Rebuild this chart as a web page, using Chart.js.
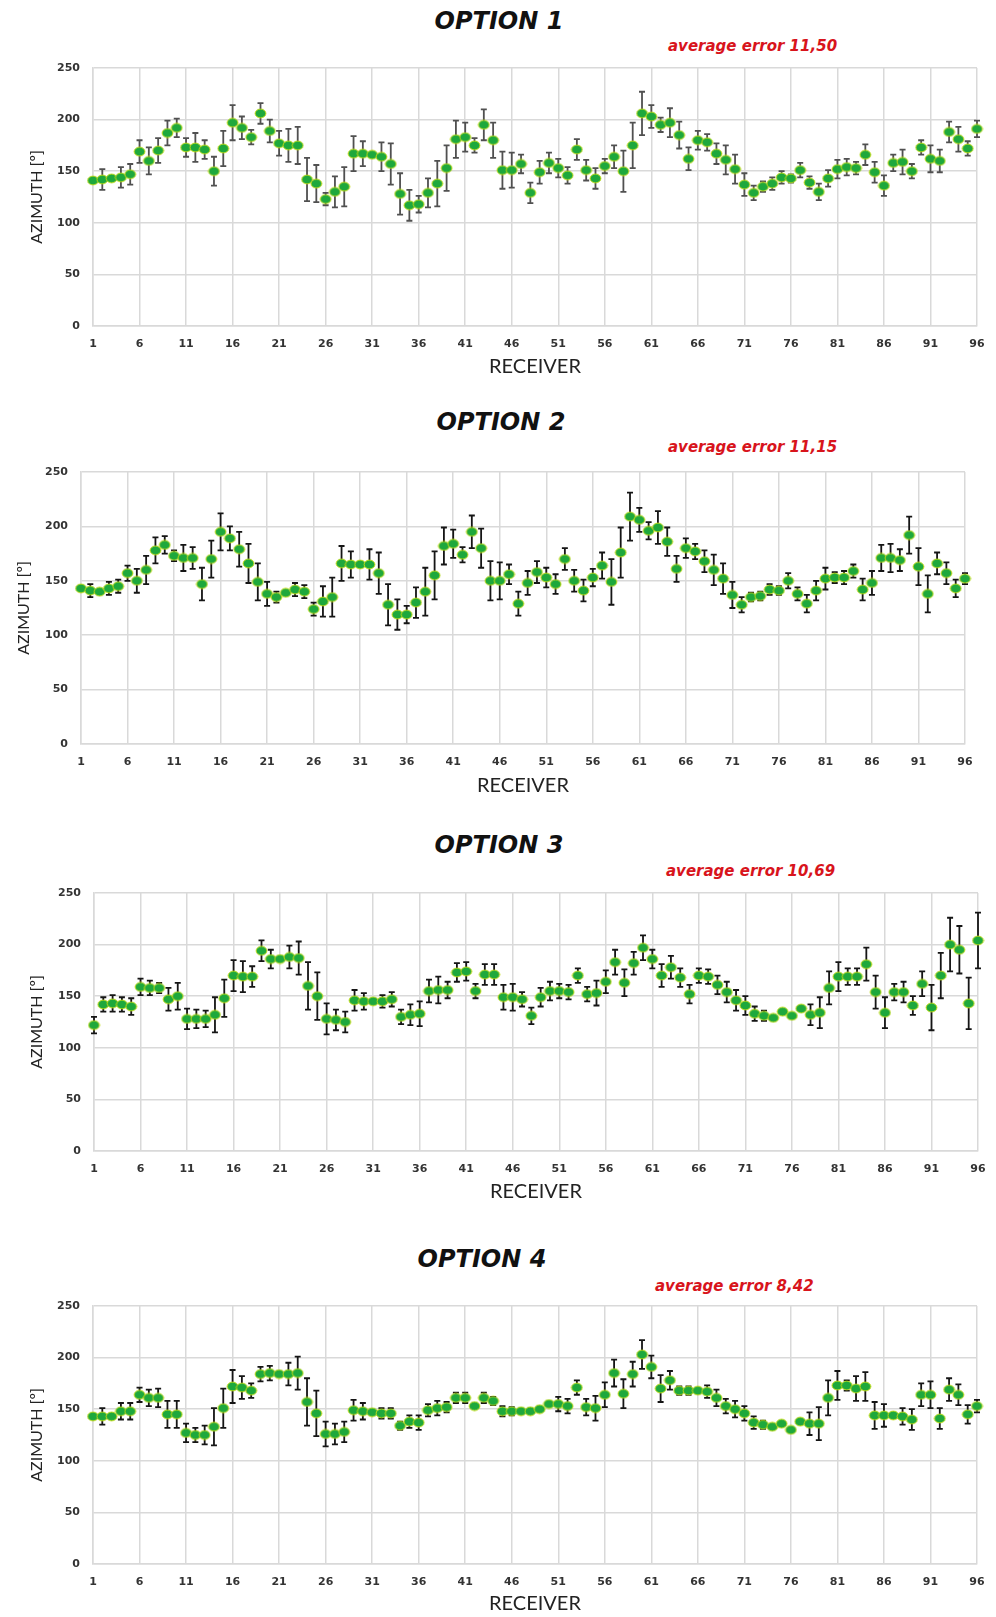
<!DOCTYPE html>
<html>
<head>
<meta charset="utf-8">
<script src="https://cdn.jsdelivr.net/npm/chart.js@4.4.1/dist/chart.umd.min.js"></script>
<style>
  html, body { margin: 0; padding: 0; background: #fff; }
  body { position: relative; width: 996px; height: 1617px; overflow: hidden; }
  .panel { position: absolute; left: 0; }
  .titulo {
    position: absolute; transform: translate(-50%, -50%);
    font: oblique bold 24px "DejaVu Sans", Verdana, sans-serif; color: #111; white-space: nowrap;
  }
  .erro {
    position: absolute; transform: translateY(-50%);
    font: oblique bold 15px "DejaVu Sans", Verdana, sans-serif; color: #d8141c; white-space: nowrap;
  }
</style>
</head>
<body>

<div class="titulo" style="left:499px; top:21px">OPTION 1</div>
<div class="erro" style="left:668px; top:46px">average error 11,50</div>
<div class="panel" style="top:60px"><canvas id="chart1" width="996" height="320"></canvas></div>

<div class="titulo" style="left:501px; top:422px">OPTION 2</div>
<div class="erro" style="left:668px; top:447px">average error 11,15</div>
<div class="panel" style="top:464px"><canvas id="chart2" width="996" height="335"></canvas></div>

<div class="titulo" style="left:499px; top:845px">OPTION 3</div>
<div class="erro" style="left:666px; top:871px">average error 10,69</div>
<div class="panel" style="top:885px"><canvas id="chart3" width="996" height="320"></canvas></div>

<div class="titulo" style="left:482px; top:1259px">OPTION 4</div>
<div class="erro" style="left:655px; top:1286px">average error 8,42</div>
<div class="panel" style="top:1298px"><canvas id="chart4" width="996" height="319"></canvas></div>

<script>
// Azimuth per receiver (1..96) for the four options, with the +/- error
// drawn as bars.

const X_TICKS = [1, 6, 11, 16, 21, 26, 31, 36, 41, 46, 51, 56, 61, 66, 71, 76, 81, 86, 91, 96];
const Y_TICKS = [0, 50, 100, 150, 200, 250];

const OPT1_AZIMUTH = [
  141, 142, 143, 144, 147, 169, 160, 170, 187, 192, 173, 173, 171, 150, 172, 197,
  192, 183, 206, 189, 177, 175, 175, 142, 138, 123, 130, 135, 167, 167, 166, 164,
  157, 128, 117, 118, 129, 138, 153, 181, 183, 175, 195, 180, 151, 151, 157, 129,
  149, 158, 153, 146, 171, 151, 143, 155, 164, 150, 175, 206, 203, 195, 197, 185,
  162, 180, 178, 167, 161, 152, 137, 129, 135, 138, 144, 143, 151, 139, 130, 143,
  152, 154, 153, 166, 149, 136, 158, 159, 150, 173, 162, 160, 188, 181, 172, 191,
];
const OPT1_ERROR = [
  0, 10, 0, 10, 10, 11, 13, 12, 12, 9, 9, 14, 9, 14, 17, 17,
  11, 7, 10, 11, 12, 16, 18, 21, 18, 6, 15, 19, 17, 12, 0, 14,
  20, 20, 15, 8, 14, 22, 22, 18, 14, 7, 15, 17, 18, 17, 9, 10,
  11, 10, 9, 8, 10, 10, 10, 7, 11, 20, 22, 21, 11, 7, 14, 13,
  11, 9, 8, 10, 14, 14, 11, 7, 5, 6, 6, 4, 7, 6, 8, 8,
  9, 8, 6, 10, 10, 10, 8, 12, 7, 7, 13, 11, 10, 12, 7, 8,
];

const OPT2_AZIMUTH = [
  143, 141, 140, 143, 145, 157, 150, 160, 178, 183, 173, 171, 171, 147, 170, 195,
  189, 179, 166, 149, 138, 135, 139, 142, 140, 124, 131, 135, 166, 165, 165, 165,
  157, 128, 119, 119, 130, 140, 155, 182, 184, 174, 195, 180, 150, 150, 156, 129,
  148, 158, 153, 147, 170, 150, 141, 153, 164, 149, 176, 209, 206, 196, 199, 186,
  161, 180, 177, 168, 160, 152, 137, 128, 135, 136, 142, 141, 150, 138, 129, 141,
  152, 153, 153, 159, 142, 148, 171, 171, 169, 192, 163, 138, 166, 157, 143, 152,
];
const OPT2_ERROR = [
  0, 6, 0, 6, 6, 7, 11, 13, 12, 8, 5, 12, 10, 15, 17, 17,
  11, 16, 18, 17, 11, 5, 0, 6, 6, 6, 14, 18, 16, 12, 0, 14,
  19, 19, 14, 8, 14, 22, 22, 17, 13, 7, 15, 18, 18, 17, 9, 11,
  11, 10, 9, 9, 10, 10, 10, 8, 12, 21, 23, 22, 11, 8, 15, 13,
  12, 9, 7, 10, 14, 14, 12, 7, 4, 4, 5, 4, 7, 6, 8, 9,
  10, 5, 6, 6, 10, 11, 12, 13, 10, 17, 17, 17, 10, 10, 8, 5,
];

const OPT3_AZIMUTH = [
  122, 142, 143, 142, 140, 159, 158, 158, 147, 150, 128, 128, 128, 132, 148, 170,
  169, 169, 194, 186, 186, 188, 187, 160, 150, 128, 127, 125, 146, 145, 145, 145,
  147, 130, 132, 133, 155, 156, 156, 173, 174, 155, 171, 171, 149, 149, 147, 131,
  149, 155, 155, 154, 170, 152, 153, 164, 183, 163, 182, 197, 186, 170, 178, 168,
  152, 170, 169, 161, 154, 146, 141, 133, 131, 129, 135, 131, 138, 132, 134, 158,
  169, 169, 169, 181, 154, 134, 154, 154, 141, 162, 139, 170, 200, 195, 143, 204,
];
const OPT3_ERROR = [
  8, 7, 8, 7, 8, 8, 7, 5, 11, 13, 10, 9, 8, 17, 18, 15,
  15, 10, 10, 9, 0, 11, 16, 23, 23, 15, 10, 10, 10, 8, 0, 6,
  7, 7, 10, 12, 11, 13, 8, 9, 9, 7, 10, 10, 12, 13, 7, 8,
  9, 9, 7, 7, 7, 7, 12, 11, 12, 13, 11, 12, 9, 11, 11, 9,
  9, 7, 7, 9, 10, 10, 9, 7, 5, 0, 0, 0, 0, 10, 15, 16,
  14, 8, 8, 16, 16, 15, 8, 10, 9, 12, 22, 22, 26, 23, 25, 27,
];

const OPT4_AZIMUTH = [
  143, 143, 143, 148, 148, 164, 161, 161, 145, 145, 127, 125, 125, 133, 151, 172,
  171, 168, 184, 185, 184, 184, 185, 157, 146, 126, 126, 128, 149, 148, 147, 146,
  146, 134, 138, 137, 149, 151, 152, 161, 161, 153, 161, 158, 148, 148, 148, 148,
  150, 155, 155, 153, 171, 152, 151, 164, 185, 165, 184, 203, 191, 170, 178, 168,
  168, 168, 167, 161, 153, 150, 146, 137, 135, 133, 136, 130, 138, 136, 136, 161,
  173, 173, 170, 172, 144, 144, 144, 143, 140, 164, 164, 141, 169, 164, 145, 153,
];
const OPT4_ERROR = [
  0, 8, 0, 8, 8, 7, 8, 9, 13, 13, 9, 7, 9, 18, 19, 16,
  11, 7, 7, 7, 0, 11, 16, 23, 22, 12, 10, 10, 10, 8, 0, 5,
  5, 4, 6, 7, 6, 7, 5, 5, 5, 0, 5, 4, 5, 4, 0, 0,
  0, 0, 7, 7, 7, 8, 12, 12, 13, 14, 12, 14, 11, 13, 9, 4,
  4, 0, 6, 8, 7, 8, 7, 6, 4, 0, 0, 0, 0, 11, 16, 17,
  14, 5, 12, 14, 13, 11, 0, 8, 10, 11, 13, 10, 11, 10, 9, 6,
];


// ---------------------------------------------------------------------------
// Aparência
// ---------------------------------------------------------------------------

const VERDE = "#1ea83c";
const BORDA_PONTO = "#c2dc16";
const GRADE = "#d9d9d9";
const FONTE_TICK = { family: "'DejaVu Sans', Verdana, sans-serif", size: 11, weight: "bold" };

Chart.defaults.font.family = "Lato, 'Open Sans', sans-serif";
Chart.defaults.color = "#333";

// Layout of each panel, in canvas pixels; plot area lands where the
// original figure has it.
const PAINEIS = [
  { id: "chart1", y: OPT1_AZIMUTH, err: OPT1_ERROR, padLeft: 23, padRight: 19, yWidth: 70, xHeight: 54, bar: "#505050" },
  { id: "chart2", y: OPT2_AZIMUTH, err: OPT2_ERROR, padLeft: 10, padRight: 31, yWidth: 71, xHeight: 55, bar: "#151515" },
  { id: "chart3", y: OPT3_AZIMUTH, err: OPT3_ERROR, padLeft: 23, padRight: 18, yWidth: 71, xHeight: 54, bar: "#151515" },
  { id: "chart4", y: OPT4_AZIMUTH, err: OPT4_ERROR, padLeft: 23, padRight: 19, yWidth: 70, xHeight: 53, bar: "#151515" },
];


/**
 * Green, slightly flattened dot with a yellow rim, used as pointStyle.
 */
function pontoVerde() {
  const c = document.createElement("canvas");
  c.width = 13;
  c.height = 11;
  const g = c.getContext("2d");
  g.beginPath();
  g.ellipse(6.5, 5.5, 5.4, 4.4, 0, 0, 2 * Math.PI);
  g.fillStyle = VERDE;
  g.fill();
  g.lineWidth = 1;
  g.strokeStyle = BORDA_PONTO;
  g.stroke();
  return c;
}


/**
 * Error bars drawn through the chart's own scales, before the points so the
 * dot sits on top of the bar.
 */
const barrasErro = {
  id: "barrasErro",
  beforeDatasetsDraw(chart, args, opts) {
    const { ctx, scales: { x, y } } = chart;
    chart.data.datasets.forEach((ds) => {
      if (!ds.erros) return;
      ctx.save();
      ctx.strokeStyle = opts.color;
      ctx.lineWidth = 1.8;
      ds.data.forEach((p, i) => {
        const e = ds.erros[i];
        if (!e) return;
        const px = x.getPixelForValue(p.x);
        const topo = y.getPixelForValue(p.y + e);
        const base = y.getPixelForValue(p.y - e);
        ctx.beginPath();
        ctx.moveTo(px, topo);
        ctx.lineTo(px, base);
        ctx.moveTo(px - 3, topo);
        ctx.lineTo(px + 3, topo);
        ctx.moveTo(px - 3, base);
        ctx.lineTo(px + 3, base);
        ctx.stroke();
      });
      ctx.restore();
    });
  },
};


function desenharPainel(p, sprite) {
  const pontos = p.y.map((v, i) => ({ x: i + 1, y: v }));
  new Chart(document.getElementById(p.id), {
    type: "scatter",
    data: {
      datasets: [{
        data: pontos,
        erros: p.err,
        pointStyle: sprite,
        clip: false,
      }],
    },
    options: {
      responsive: false,
      animation: false,
      layout: { padding: { top: 8, left: p.padLeft, right: p.padRight, bottom: 0 } },
      plugins: {
        legend: { display: false },
        tooltip: { enabled: false },
        barrasErro: { color: p.bar },
      },
      scales: {
        x: {
          type: "linear",
          min: 1,
          max: 96,
          afterBuildTicks: (s) => { s.ticks = X_TICKS.map((v) => ({ value: v })); },
          afterFit: (s) => {
            s.height = p.xHeight;
            s.paddingLeft = 0;
            s.paddingRight = 0;
          },
          ticks: { padding: 12, maxRotation: 0, autoSkip: false, font: FONTE_TICK, color: "#333" },
          grid: { color: GRADE, lineWidth: 1.5, drawTicks: false },
          border: { color: GRADE, width: 1.5 },
          title: { display: true, text: "RECEIVER", font: { size: 20 }, color: "#222", padding: { top: 4, bottom: 1 } },
        },
        y: {
          min: 0,
          max: 250,
          afterBuildTicks: (s) => { s.ticks = Y_TICKS.map((v) => ({ value: v })); },
          afterFit: (s) => {
            s.width = p.yWidth;
            s.paddingTop = 0;
            s.paddingBottom = 0;
          },
          ticks: { padding: 13, font: FONTE_TICK, color: "#333" },
          grid: { color: GRADE, lineWidth: 1.5, drawTicks: false },
          border: { color: GRADE, width: 1.5 },
          title: { display: true, text: "AZIMUTH [º]", font: { size: 16 }, color: "#222", padding: { top: 4, bottom: 4 } },
        },
      },
    },
    plugins: [barrasErro],
  });
}


const sprite = pontoVerde();
PAINEIS.forEach((p) => desenharPainel(p, sprite));
</script>
</body>
</html>
